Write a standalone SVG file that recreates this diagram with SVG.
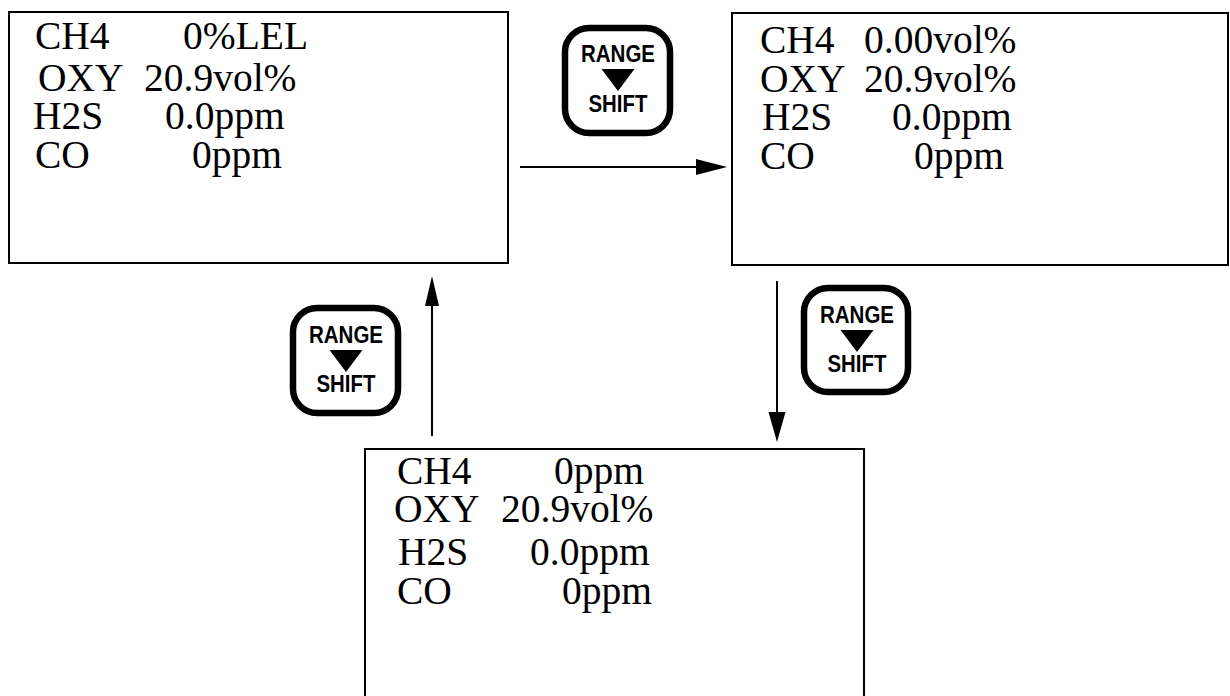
<svg xmlns="http://www.w3.org/2000/svg" width="1230" height="696" viewBox="0 0 1230 696">
<style>
.box{fill:#fff;stroke:#000;stroke-width:2}
.t{font-family:"Liberation Serif","Times New Roman",Times,serif;font-size:39.5px;fill:#000}
.btn{fill:#fff;stroke:#000;stroke-width:6.5}
.bt{font-family:"Liberation Sans",Arial,sans-serif;font-weight:bold;font-size:23px;fill:#000;text-anchor:middle}
.ln{stroke:#000;stroke-width:2;fill:none}
</style>
<rect width="1230" height="696" fill="#fff"/>
<g id="screen-lel">
<rect class="box" x="9" y="12" width="499" height="251"/>
<text class="t" x="35" y="49">CH4</text><text class="t" x="183" y="49">0%LEL</text>
<text class="t" x="38" y="91">OXY</text><text class="t" x="144" y="91">20.9vol%</text>
<text class="t" x="33" y="129">H2S</text><text class="t" x="165" y="129">0.0ppm</text>
<text class="t" x="35" y="168">CO</text><text class="t" x="192" y="168">0ppm</text>
</g>
<g id="screen-vol">
<rect class="box" x="732" y="13" width="496" height="252"/>
<text class="t" x="760" y="53">CH4</text><text class="t" x="864" y="53">0.00vol%</text>
<text class="t" x="760" y="92">OXY</text><text class="t" x="864" y="92">20.9vol%</text>
<text class="t" x="762" y="130">H2S</text><text class="t" x="892" y="130">0.0ppm</text>
<text class="t" x="760" y="169">CO</text><text class="t" x="914" y="169">0ppm</text>
</g>
<g id="screen-ppm">
<rect class="box" x="365" y="449" width="499" height="260"/>
<text class="t" x="397" y="484">CH4</text><text class="t" x="554" y="484">0ppm</text>
<text class="t" x="394" y="522">OXY</text><text class="t" x="501" y="522">20.9vol%</text>
<text class="t" x="398" y="565">H2S</text><text class="t" x="530" y="565">0.0ppm</text>
<text class="t" x="397" y="604">CO</text><text class="t" x="562" y="604">0ppm</text>
</g>
<g id="button-1">
<rect class="btn" x="565" y="28" width="105" height="105" rx="24"/>
<text class="bt" x="618" y="62" textLength="74" lengthAdjust="spacingAndGlyphs">RANGE</text>
<polygon points="601.5,69 634.5,69 618,91" fill="#000"/>
<text class="bt" x="618" y="112" textLength="59" lengthAdjust="spacingAndGlyphs">SHIFT</text>
</g>
<g id="button-2">
<rect class="btn" x="804" y="288" width="104" height="104" rx="24"/>
<text class="bt" x="857" y="323" textLength="74" lengthAdjust="spacingAndGlyphs">RANGE</text>
<polygon points="840.5,330 873.5,330 857,352" fill="#000"/>
<text class="bt" x="857" y="372" textLength="59" lengthAdjust="spacingAndGlyphs">SHIFT</text>
</g>
<g id="button-3">
<rect class="btn" x="293" y="308" width="105" height="105" rx="24"/>
<text class="bt" x="346" y="343" textLength="74" lengthAdjust="spacingAndGlyphs">RANGE</text>
<polygon points="329.5,350 362.5,350 346,372" fill="#000"/>
<text class="bt" x="346" y="392" textLength="59" lengthAdjust="spacingAndGlyphs">SHIFT</text>
</g>
<g id="connectors">
<line class="ln" x1="520" y1="167" x2="700" y2="167"/>
<polygon points="727,167 696,159 696,175" fill="#000"/>
<line class="ln" x1="777" y1="281" x2="777" y2="415"/>
<polygon points="777,442 768.5,412 785.5,412" fill="#000"/>
<line class="ln" x1="432" y1="436" x2="432" y2="302"/>
<polygon points="432,276 425,306 439,306" fill="#000"/>
</g>
</svg>
